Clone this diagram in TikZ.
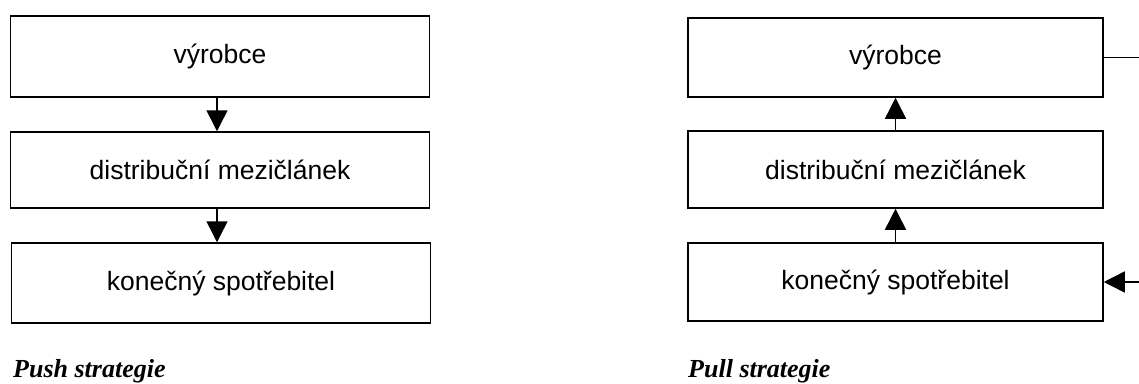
\documentclass[tikz,border=0pt]{standalone}
\usepackage{fontspec}
\setmainfont{Liberation Sans}
\newfontfamily\labelfont{Liberation Serif}
\usetikzlibrary{arrows.meta,calc}
\begin{document}
\begin{tikzpicture}[x=1pt,y=-1pt,
  boxst/.style={draw,line width=1.5pt,minimum width=419pt,inner sep=0pt,font=\fontsize{26.5}{30}\selectfont},
  arr/.style={line width=1.5pt,-{Triangle[length=21pt,width=21pt]}},
  plain/.style={line width=1.5pt},
  caption/.style={anchor=base west,inner sep=0pt,font=\labelfont\bfseries\itshape\fontsize{26}{30}\selectfont}]
\useasboundingbox (0,0) rectangle (1139,383);
% Push
\node[boxst,minimum height=81pt] (l1) at (220,56.5) {výrobce};
\node[boxst,minimum height=76pt] (l2) at (220,170) {distribuční mezičlánek};
\node[boxst,minimum height=80pt] (l3) at (221,283) {konečný spotřebitel};
\draw[arr] ($(l1.south)+(-3,0)$) -- ($(l2.north)+(-3,0)$);
\draw[arr] ($(l2.south)+(-3,0)$) -- ($(l3.north)+(-4,0)$);
\node[caption] (pushlab) at (13,377) {Push strategie};
% Pull
\node[boxst,minimum width=415pt,minimum height=79pt] (r1) at (895.5,57.5) {výrobce};
\node[boxst,minimum width=415pt,minimum height=77pt] (r2) at (895.5,169.5) {distribuční mezičlánek};
\node[boxst,minimum width=415pt,minimum height=78pt] (r3) at (895.5,282) {konečný spotřebitel};
\draw[arr] (r2.north) -- (r1.south);
\draw[arr] (r3.north) -- (r2.south);
\coordinate (outtop) at (1139,57.5);
\coordinate (outbot) at (1139,282);
\draw[plain] (r1.east) -- (outtop);
\draw[arr] (outbot) -- (r3.east);
\node[caption] (pulllab) at (688,377) {Pull strategie};
\end{tikzpicture}
\end{document}
